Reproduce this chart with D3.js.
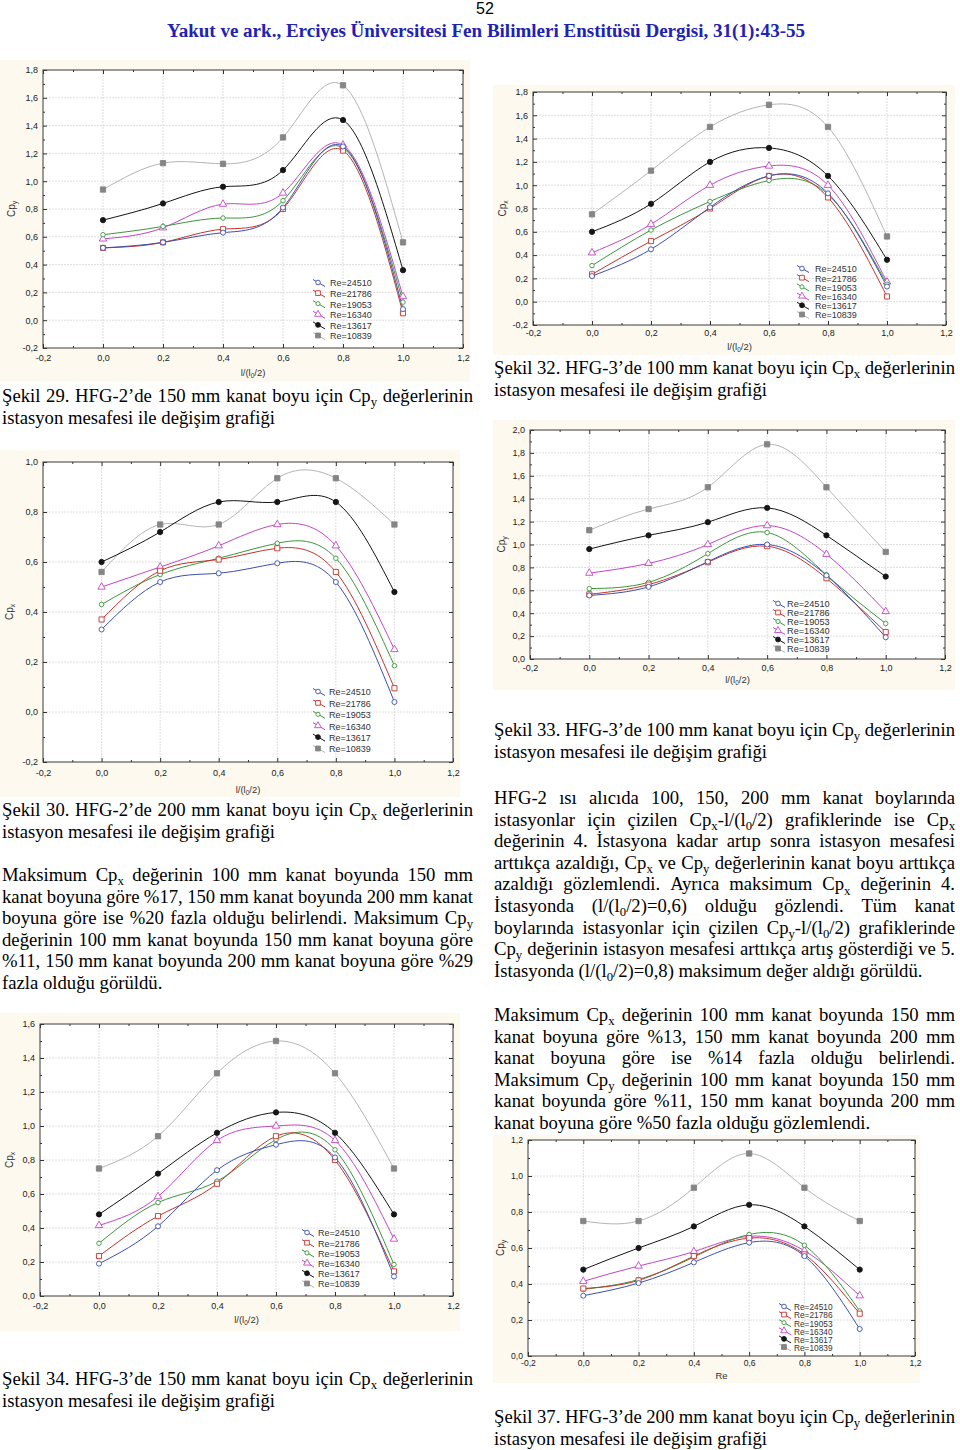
<!DOCTYPE html>
<html><head><meta charset="utf-8">
<script src="https://cdn.jsdelivr.net/npm/d3@7"></script>
<style>body{margin:0;background:#fff} svg{display:block}</style>
</head><body>
<svg id="page" width="960" height="1450"></svg>
<script>
// ---------- DATA ----------
const stations = [0, 0.2, 0.4, 0.6, 0.8, 1.0];
const xTickValues = [-0.2, 0, 0.2, 0.4, 0.6, 0.8, 1.0, 1.2];
const reLabels = ["Re=24510", "Re=21786", "Re=19053", "Re=16340", "Re=13617", "Re=10839"];

// Şekil 29 – HFG-2, 150 mm, Cpy (rows follow reLabels)
const fig29Cpy = [
  [0.52, 0.56, 0.63, 0.81, 1.25, 0.08],
  [0.52, 0.56, 0.655, 0.80, 1.22, 0.05],
  [0.615, 0.675, 0.735, 0.86, 1.24, 0.13],
  [0.585, 0.665, 0.835, 0.915, 1.26, 0.17],
  [0.72, 0.84, 0.96, 1.08, 1.44, 0.36],
  [0.94, 1.13, 1.125, 1.315, 1.69, 0.56]
];
// Şekil 32 – HFG-3, 100 mm, Cpx
const fig32Cpx = [
  [0.22, 0.45, 0.81, 1.08, 0.93, 0.13],
  [0.235, 0.52, 0.80, 1.08, 0.895, 0.045],
  [0.31, 0.615, 0.86, 1.04, 0.92, 0.15],
  [0.42, 0.665, 1.00, 1.165, 1.00, 0.17],
  [0.60, 0.84, 1.20, 1.32, 1.08, 0.36],
  [0.75, 1.125, 1.50, 1.69, 1.50, 0.56]
];
// Şekil 30 – HFG-2, 200 mm, Cpx
const fig30Cpx = [
  [0.33, 0.52, 0.555, 0.595, 0.52, 0.04],
  [0.37, 0.565, 0.61, 0.655, 0.56, 0.095],
  [0.43, 0.55, 0.615, 0.675, 0.615, 0.185],
  [0.50, 0.58, 0.665, 0.75, 0.665, 0.25],
  [0.60, 0.72, 0.84, 0.84, 0.84, 0.48],
  [0.56, 0.75, 0.75, 0.935, 0.935, 0.75]
];
// Şekil 33 – HFG-3, 100 mm, Cpy
const fig33Cpy = [
  [0.555, 0.63, 0.85, 1.00, 0.73, 0.19],
  [0.565, 0.65, 0.845, 0.985, 0.705, 0.235],
  [0.615, 0.67, 0.92, 1.105, 0.735, 0.31],
  [0.75, 0.835, 1.00, 1.165, 0.915, 0.415],
  [0.96, 1.08, 1.195, 1.32, 1.08, 0.72],
  [1.125, 1.31, 1.50, 1.875, 1.50, 0.935]
];
// Şekil 34 – HFG-3, 150 mm, Cpx
const fig34Cpx = [
  [0.19, 0.41, 0.74, 0.89, 0.815, 0.115],
  [0.235, 0.47, 0.66, 0.94, 0.80, 0.145],
  [0.31, 0.55, 0.675, 0.92, 0.86, 0.185],
  [0.415, 0.585, 0.915, 1.00, 0.915, 0.335],
  [0.48, 0.72, 0.96, 1.08, 0.96, 0.48],
  [0.75, 0.94, 1.31, 1.50, 1.31, 0.75]
];
// Şekil 37 – HFG-3, 200 mm, Cpy
const fig37Cpy = [
  [0.335, 0.405, 0.52, 0.63, 0.555, 0.15],
  [0.375, 0.42, 0.555, 0.655, 0.565, 0.235],
  [0.37, 0.425, 0.55, 0.675, 0.615, 0.25],
  [0.415, 0.50, 0.58, 0.665, 0.585, 0.335],
  [0.48, 0.60, 0.72, 0.84, 0.72, 0.48],
  [0.75, 0.75, 0.935, 1.125, 0.935, 0.75]
];

const yTicks29 = [-0.2, 0, 0.2, 0.4, 0.6, 0.8, 1.0, 1.2, 1.4, 1.6, 1.8];
const yTicks32 = [-0.2, 0, 0.2, 0.4, 0.6, 0.8, 1.0, 1.2, 1.4, 1.6, 1.8];
const yTicks30 = [-0.2, 0, 0.2, 0.4, 0.6, 0.8, 1.0];
const yTicks33 = [0, 0.2, 0.4, 0.6, 0.8, 1.0, 1.2, 1.4, 1.6, 1.8, 2.0];
const yTicks34 = [0, 0.2, 0.4, 0.6, 0.8, 1.0, 1.2, 1.4, 1.6];
const yTicks37 = [0, 0.2, 0.4, 0.6, 0.8, 1.0, 1.2];

// ---------- STYLE ----------
const seriesStyle = [
  {line: "#3c4fae", stroke: "#3c4fae", fill: "#fff", sym: d3.symbolCircle, size: 20},
  {line: "#c4342c", stroke: "#c4342c", fill: "#fff", sym: d3.symbolSquare, size: 26},
  {line: "#3d963d", stroke: "#3d963d", fill: "#fff", sym: d3.symbolCircle, size: 16},
  {line: "#c346c3", stroke: "#c346c3", fill: "#fff", sym: d3.symbolTriangle, size: 24},
  {line: "#151515", stroke: "#151515", fill: "#151515", sym: d3.symbolCircle, size: 22},
  {line: "#b4b4b4", stroke: "#858585", fill: "#858585", sym: d3.symbolSquare, size: 28}
];

const svg = d3.select("#page");
svg.append("rect").attr("width", 960).attr("height", 1450).attr("fill", "#fff");

// rich text: "_c" makes c a subscript
function addRich(t, str, fs) {
  const parts = str.split(/(_.)/).filter(s => s.length);
  const sh = fs * 0.22;
  let sub = false;
  parts.forEach(p => {
    if (p[0] === "_" && p.length === 2) {
      t.append("tspan").attr("font-size", fs * 0.68).attr("dy", sh).text(p[1]);
      sub = true;
    } else {
      const ts = t.append("tspan").text(p);
      if (sub) { ts.attr("dy", -sh); sub = false; }
    }
  });
}

const bodyFont = "'Liberation Serif','Times New Roman',serif";
const bodyFs = 18.7;
function textLine(str, x, y, width, justify) {
  if (!justify) {
    const t = svg.append("text").attr("x", x).attr("y", y)
      .attr("font-family", bodyFont).attr("font-size", bodyFs).attr("fill", "#000");
    addRich(t, str, bodyFs);
    return;
  }
  const words = str.split(" ");
  const els = words.map(w => {
    const t = svg.append("text").attr("y", y)
      .attr("font-family", bodyFont).attr("font-size", bodyFs).attr("fill", "#000");
    addRich(t, w, bodyFs);
    return t;
  });
  const widths = els.map(t => t.node().getComputedTextLength());
  const gap = (width - d3.sum(widths)) / (words.length - 1);
  let cx = x;
  els.forEach((t, i) => { t.attr("x", cx); cx += widths[i] + gap; });
}
function block(lines, x, y0, lh, width, lastJustified) {
  lines.forEach((s, i) => {
    const j = i < lines.length - 1 || lastJustified;
    textLine(s, x, y0 + i * lh, width, j);
  });
}

// ---------- HEADER ----------
svg.append("text").attr("x", 485).attr("y", 14).attr("text-anchor", "middle")
  .attr("font-family", "'Liberation Sans',Arial,sans-serif").attr("font-size", 16).text("52");
svg.append("text").attr("x", 167).attr("y", 37)
  .attr("font-family", bodyFont).attr("font-weight", "bold").attr("font-size", 18)
  .attr("fill", "#2121b3").attr("textLength", 638).attr("lengthAdjust", "spacingAndGlyphs")
  .text("Yakut ve ark.,  Erciyes Üniversitesi Fen Bilimleri Enstitüsü Dergisi, 31(1):43-55");

// ---------- CHARTS ----------
const fmt = v => d3.format(".1f")(v).replace("−", "-").replace(".", ",");

function drawChart(c) {
  const g = svg.append("g");
  g.append("rect").attr("x", c.panel[0]).attr("y", c.panel[1])
    .attr("width", c.panel[2]).attr("height", c.panel[3]).attr("fill", "#fdf9ee");
  const x = d3.scaleLinear().domain([-0.2, 1.2]).range([c.x0, c.x1]);
  const y = d3.scaleLinear().domain([c.yTicks[0], c.yTicks[c.yTicks.length - 1]]).range([c.y1, c.y0]);
  g.append("rect").attr("x", c.x0).attr("y", c.y0).attr("width", c.x1 - c.x0)
    .attr("height", c.y1 - c.y0).attr("fill", "#fff");
  // grid
  g.append("g").selectAll("line").data(xTickValues.slice(1, -1)).join("line")
    .attr("x1", d => x(d)).attr("x2", d => x(d)).attr("y1", c.y0).attr("y2", c.y1)
    .attr("stroke", "#d6d6d6").attr("stroke-width", 0.8).attr("stroke-dasharray", "2,1");
  g.append("g").selectAll("line").data(c.yTicks.slice(1, -1)).join("line")
    .attr("y1", d => y(d)).attr("y2", d => y(d)).attr("x1", c.x0).attr("x2", c.x1)
    .attr("stroke", "#d6d6d6").attr("stroke-width", 0.8).attr("stroke-dasharray", "2,1");

  const tickFont = "'Liberation Sans',Arial,sans-serif";
  const styleAxis = (a) => {
    a.select(".domain").remove();
    a.selectAll(".tick line").attr("stroke", "#333");
    a.selectAll(".tick text").attr("fill", "#222").attr("font-size", c.tickFs).attr("font-family", tickFont);
  };
  const xMinor = xTickValues.slice(0, -1).map(v => v + 0.1);
  const ySt = c.yTicks[1] - c.yTicks[0];
  const yMinor = c.yTicks.slice(0, -1).map(v => v + ySt / 2);

  g.append("g").attr("transform", `translate(0,${c.y1})`)
    .call(d3.axisBottom(x).tickValues(xTickValues).tickFormat(fmt).tickSizeInner(-4).tickSizeOuter(0).tickPadding(c.xPad))
    .call(styleAxis);
  g.append("g").attr("transform", `translate(0,${c.y1})`)
    .call(d3.axisBottom(x).tickValues(xMinor).tickFormat("").tickSizeInner(-2).tickSizeOuter(0)).call(styleAxis);
  g.append("g").attr("transform", `translate(0,${c.y0})`)
    .call(d3.axisTop(x).tickValues(xTickValues).tickFormat("").tickSizeInner(-4).tickSizeOuter(0)).call(styleAxis);
  g.append("g").attr("transform", `translate(0,${c.y0})`)
    .call(d3.axisTop(x).tickValues(xMinor).tickFormat("").tickSizeInner(-2).tickSizeOuter(0)).call(styleAxis);
  g.append("g").attr("transform", `translate(${c.x0},0)`)
    .call(d3.axisLeft(y).tickValues(c.yTicks).tickFormat(fmt).tickSizeInner(-4).tickSizeOuter(0).tickPadding(5))
    .call(styleAxis);
  g.append("g").attr("transform", `translate(${c.x0},0)`)
    .call(d3.axisLeft(y).tickValues(yMinor).tickFormat("").tickSizeInner(-2).tickSizeOuter(0)).call(styleAxis);
  g.append("g").attr("transform", `translate(${c.x1},0)`)
    .call(d3.axisRight(y).tickValues(c.yTicks).tickFormat("").tickSizeInner(-4).tickSizeOuter(0)).call(styleAxis);
  g.append("g").attr("transform", `translate(${c.x1},0)`)
    .call(d3.axisRight(y).tickValues(yMinor).tickFormat("").tickSizeInner(-2).tickSizeOuter(0)).call(styleAxis);

  g.append("rect").attr("x", c.x0).attr("y", c.y0).attr("width", c.x1 - c.x0)
    .attr("height", c.y1 - c.y0).attr("fill", "none").attr("stroke", "#3a3a3a").attr("stroke-width", 1);

  // axis titles
  const xl = g.append("text").attr("x", (c.x0 + c.x1) / 2).attr("y", c.xLabelY).attr("text-anchor", "middle")
    .attr("font-family", tickFont).attr("font-size", 9.5).attr("fill", "#333");
  addRich(xl, c.xLabel, 9.5);
  const yl = g.append("text").attr("transform", `translate(${c.yLabelX},${(c.y0 + c.y1) / 2}) rotate(-90)`)
    .attr("text-anchor", "middle").attr("font-family", tickFont).attr("font-size", 10).attr("fill", "#333");
  addRich(yl, c.yLabel, 10);

  // series
  const line = d3.line().x((d, i) => x(stations[i])).y(d => y(d)).curve(d3.curveNatural);
  const order = [5, 4, 3, 2, 1, 0];
  order.forEach(k => {
    const st = seriesStyle[k];
    g.append("path").attr("d", line(c.data[k])).attr("fill", "none")
      .attr("stroke", st.line).attr("stroke-width", 1);
  });
  order.forEach(k => {
    const st = seriesStyle[k];
    g.append("g").selectAll("path").data(c.data[k]).join("path")
      .attr("transform", (d, i) => `translate(${x(stations[i])},${y(d)})`)
      .attr("d", d3.symbol().type(st.sym).size(st.size))
      .attr("fill", st.fill).attr("stroke", st.stroke).attr("stroke-width", 0.9);
  });

  // legend
  reLabels.forEach((lab, k) => {
    const st = seriesStyle[k];
    const ly = c.leg.y + k * c.leg.dy;
    const lx = c.leg.x;
    g.append("line").attr("x1", lx).attr("y1", ly - 3.5).attr("x2", lx + 12).attr("y2", ly + 3.5)
      .attr("stroke", st.line).attr("stroke-width", 1);
    g.append("path").attr("transform", `translate(${lx + 5},${ly - 0.5})`)
      .attr("d", d3.symbol().type(st.sym).size(st.size * 0.85))
      .attr("fill", st.fill).attr("stroke", st.stroke).attr("stroke-width", 0.9);
    g.append("text").attr("x", lx + c.leg.tx).attr("y", ly + 3.3).attr("font-family", tickFont)
      .attr("font-size", c.leg.fs).attr("fill", "#333").text(lab);
  });
}

const xLab = "l/(l_0/2)";
drawChart({panel: [0, 60, 470, 322], x0: 43, x1: 463, y0: 70, y1: 348, yTicks: yTicks29, data: fig29Cpy,
  xPad: 6.8, tickFs: 9, xLabel: xLab, xLabelY: 376, yLabel: "Cp_y", yLabelX: 15,
  leg: {x: 313, y: 283, dy: 10.6, tx: 17, fs: 9}});
drawChart({panel: [493, 85, 462, 270], x0: 533, x1: 946, y0: 92, y1: 325, yTicks: yTicks32, data: fig32Cpx,
  xPad: 4.8, tickFs: 9, xLabel: xLab, xLabelY: 350, yLabel: "Cp_x", yLabelX: 506,
  leg: {x: 797, y: 269, dy: 9.2, tx: 18, fs: 9}});
drawChart({panel: [0, 450, 460, 347], x0: 43, x1: 453, y0: 462, y1: 762, yTicks: yTicks30, data: fig30Cpx,
  xPad: 7.5, tickFs: 9, xLabel: xLab, xLabelY: 793, yLabel: "Cp_x", yLabelX: 13,
  leg: {x: 313, y: 692, dy: 11.4, tx: 16, fs: 9}});
drawChart({panel: [493, 420, 462, 270], x0: 530, x1: 945, y0: 430, y1: 659, yTicks: yTicks33, data: fig33Cpy,
  xPad: 5.8, tickFs: 9, xLabel: xLab, xLabelY: 683, yLabel: "Cp_y", yLabelX: 505,
  leg: {x: 773, y: 604, dy: 9, tx: 14, fs: 9.2}});
drawChart({panel: [0, 1013, 460, 318], x0: 40, x1: 453, y0: 1024, y1: 1296, yTicks: yTicks34, data: fig34Cpx,
  xPad: 7, tickFs: 9, xLabel: xLab, xLabelY: 1323, yLabel: "Cp_x", yLabelX: 13,
  leg: {x: 302, y: 1233, dy: 10.2, tx: 16, fs: 9}});
drawChart({panel: [493, 1135, 427, 248], x0: 528, x1: 915, y0: 1140, y1: 1356, yTicks: yTicks37, data: fig37Cpy,
  xPad: 4.1, tickFs: 8.6, xLabel: "Re", xLabelY: 1379, yLabel: "Cp_y", yLabelX: 504,
  leg: {x: 779, y: 1307, dy: 8.1, tx: 15, fs: 8.3}});

// ---------- TEXT ----------
const LW = 471, RW = 461, LX = 2, RX = 494;
block(["Şekil 29. HFG-2’de 150 mm kanat boyu için Cp_y değerlerinin",
       "istasyon mesafesi ile değişim grafiği"], LX, 402, 22, LW, false);
block(["Şekil 32. HFG-3’de 100 mm kanat boyu için Cp_x değerlerinin",
       "istasyon mesafesi ile değişim grafiği"], RX, 374, 22, RW, false);
block(["Şekil 30. HFG-2’de 200 mm kanat boyu için Cp_x değerlerinin",
       "istasyon mesafesi ile değişim grafiği"], LX, 816, 22, LW, false);
block(["Maksimum Cp_x değerinin 100 mm kanat boyunda 150 mm",
       "kanat boyuna göre %17, 150 mm kanat boyunda 200 mm kanat",
       "boyuna göre ise %20 fazla olduğu belirlendi. Maksimum Cp_y",
       "değerinin 100 mm kanat boyunda 150 mm kanat boyuna göre",
       "%11, 150 mm kanat boyunda 200 mm kanat boyuna göre %29",
       "fazla olduğu görüldü."], LX, 881, 21.6, LW, false);
block(["Şekil 33. HFG-3’de 100 mm kanat boyu için Cp_y değerlerinin",
       "istasyon mesafesi ile değişim grafiği"], RX, 736, 21.5, RW, false);
block(["HFG-2 ısı alıcıda 100, 150, 200 mm kanat boylarında",
       "istasyonlar için çizilen Cp_x-l/(l_0/2) grafiklerinde ise Cp_x",
       "değerinin 4. İstasyona kadar artıp sonra istasyon mesafesi",
       "arttıkça azaldığı, Cp_x ve Cp_y değerlerinin kanat boyu arttıkça",
       "azaldığı gözlemlendi. Ayrıca maksimum Cp_x değerinin 4.",
       "İstasyonda (l/(l_0/2)=0,6) olduğu gözlendi. Tüm kanat",
       "boylarında istasyonlar için çizilen Cp_y-l/(l_0/2) grafiklerinde",
       "Cp_y değerinin istasyon mesafesi arttıkça artış gösterdiği ve 5.",
       "İstasyonda (l/(l_0/2)=0,8) maksimum değer aldığı görüldü."], RX, 804, 21.6, RW, false);
block(["Maksimum Cp_x değerinin 100 mm kanat boyunda 150 mm",
       "kanat boyuna göre %13, 150 mm kanat boyunda 200 mm",
       "kanat boyuna göre ise %14 fazla olduğu belirlendi.",
       "Maksimum Cp_y değerinin 100 mm kanat boyunda 150 mm",
       "kanat boyunda göre %11, 150 mm kanat boyunda 200 mm",
       "kanat boyuna göre %50 fazla olduğu gözlemlendi."], RX, 1021, 21.5, RW, false);
block(["Şekil 34. HFG-3’de 150 mm kanat boyu için Cp_x değerlerinin",
       "istasyon mesafesi ile değişim grafiği"], LX, 1385, 21.5, LW, false);
block(["Şekil 37. HFG-3’de 200 mm kanat boyu için Cp_y değerlerinin",
       "istasyon mesafesi ile değişim grafiği"], RX, 1423, 21.5, RW, false);
</script>
</body></html>
